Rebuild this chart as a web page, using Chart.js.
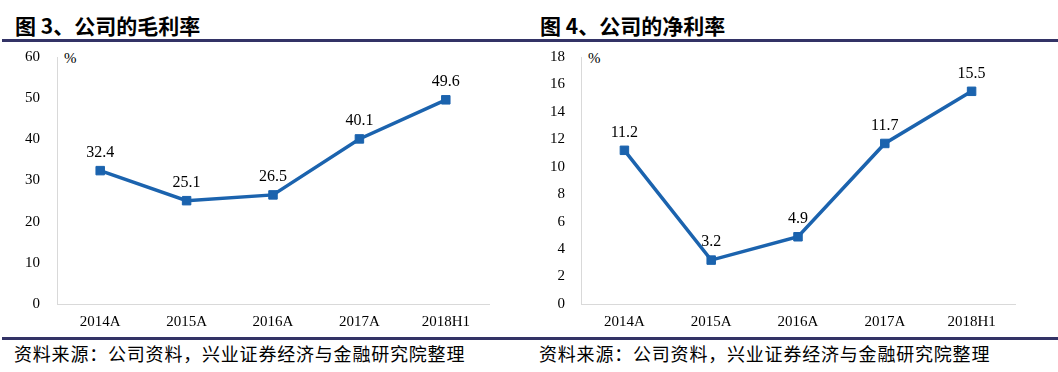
<!DOCTYPE html>
<html>
<head>
<meta charset="utf-8">
<script src="https://cdn.jsdelivr.net/npm/chart.js@4/dist/chart.umd.min.js"></script>
<style>
  html, body { margin: 0; padding: 0; background: #fff; }
  body { width: 1058px; height: 372px; position: relative; overflow: hidden; }
  .title { position: absolute; top: 13px; font-family: "Noto Sans CJK SC", sans-serif; font-weight: 700; font-size: 21px; line-height: 24px; color: #000; white-space: nowrap; }
  .rule { position: absolute; left: 2px; width: 1056px; height: 3px; background: #333366; }
  .src { position: absolute; top: 341px; font-family: "Noto Sans CJK SC", sans-serif; font-size: 18px; line-height: 24px; letter-spacing: 0.8px; color: #000; white-space: nowrap; }
  .unit { position: absolute; top: 50px; font-family: "Liberation Serif", "Times New Roman", serif; font-size: 15px; color: #000; }
  .box { position: absolute; top: 44px; height: 292px; }
</style>
</head>
<body>
<div class="title" style="left:15px">图 3、公司的毛利率</div>
<div class="title" style="left:540px">图 4、公司的净利率</div>
<div class="rule" style="top:39px"></div>
<div class="rule" style="top:337px"></div>
<div class="src" style="left:14px">资料来源：公司资料，兴业证券经济与金融研究院整理</div>
<div class="src" style="left:539px">资料来源：公司资料，兴业证券经济与金融研究院整理</div>
<div class="unit" style="left:64px">%</div>
<div class="unit" style="left:588px">%</div>
<div class="box" style="left:0;width:530px"><canvas id="grossChart"></canvas></div>
<div class="box" style="left:530px;width:528px"><canvas id="netChart"></canvas></div>
<script>
// data
const categories = ['2014A', '2015A', '2016A', '2017A', '2018H1'];
const grossMargin = [32.4, 25.1, 26.5, 40.1, 49.6];
const netMargin = [11.2, 3.2, 4.9, 11.7, 15.5];

const grossTicks = { min: 0, max: 60, step: 10 };
const netTicks = { min: 0, max: 18, step: 2 };

const serif = 'Liberation Serif, Times New Roman, serif';
const lineColor = '#1B63AE';

// draws the value above each point
const valueLabels = {
    id: 'valueLabels',
    afterDatasetsDraw(chart) {
        const ctx = chart.ctx;
        const meta = chart.getDatasetMeta(0);
        const values = chart.data.datasets[0].data;
        ctx.save();
        ctx.font = '16px ' + serif;
        ctx.fillStyle = '#000';
        ctx.textAlign = 'center';
        ctx.textBaseline = 'middle';
        meta.data.forEach((pt, i) => {
            ctx.fillText(values[i].toFixed(1), pt.x, pt.y - 18);
        });
        ctx.restore();
    }
};

function makeChart(canvasId, values, range, pad) {
    const ctx = document.getElementById(canvasId).getContext('2d');
    return new Chart(ctx, {
        type: 'line',
        data: {
            labels: categories,
            datasets: [{
                data: values,
                borderColor: lineColor,
                backgroundColor: lineColor,
                borderWidth: 3.5,
                tension: 0,
                pointStyle: 'rect',
                pointRadius: 6,
                pointBorderWidth: 1,
                pointBackgroundColor: lineColor,
                pointBorderColor: lineColor
            }]
        },
        options: {
            responsive: true,
            maintainAspectRatio: false,
            animation: false,
            layout: { padding: { top: 13, right: pad.right, left: 0, bottom: 0 } },
            scales: {
                x: {
                    offset: true,
                    grid: { display: false, drawTicks: false },
                    border: { color: '#D9D9D9', width: 1 },
                    ticks: { color: '#000', font: { family: serif, size: 15 }, padding: 9, maxRotation: 0 },
                    afterFit: (scale) => { scale.height = 32; }
                },
                y: {
                    min: range.min,
                    max: range.max,
                    grid: { display: false, drawTicks: false },
                    border: { color: '#D9D9D9', width: 1 },
                    ticks: { stepSize: range.step, color: '#000', font: { family: serif, size: 15 }, padding: pad.tick },
                    afterFit: (scale) => {
                        scale.width = pad.left;
                        scale.paddingTop = 0;
                        scale.paddingBottom = 0;
                    }
                }
            },
            plugins: {
                legend: { display: false },
                tooltip: { enabled: false }
            }
        },
        plugins: [valueLabels]
    });
}

makeChart('grossChart', grossMargin, grossTicks, { left: 57, right: 41, tick: 17 });
makeChart('netChart', netMargin, netTicks, { left: 51, right: 43, tick: 16 });
</script>
</body>
</html>
